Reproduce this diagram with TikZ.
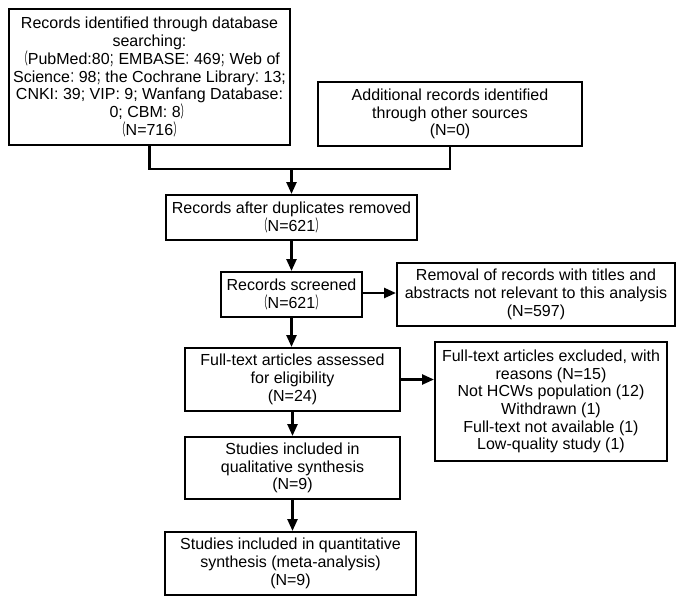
\documentclass[tikz,border=0pt]{standalone}
\usepackage{fontspec}
\setmainfont{Liberation Sans}
\newfontfamily\cjk[FakeStretch=0.55]{Noto Sans CJK SC}
\usetikzlibrary{arrows.meta}
\newcommand{\fw}[1]{{\cjk #1}}
\tikzset{
  box/.style={draw=black, line width=2pt, fill=white, align=center, inner sep=0pt,
    font=\fontsize{16}{17.7}\selectfont},
  arr/.style={line width=2.5pt, -{Triangle[length=12pt,width=10pt]}},
  ln/.style={line width=2.5pt}
}
\begin{document}
\begin{tikzpicture}[x=1pt,y=-1pt]
\useasboundingbox (0,0) rectangle (683,605);
\node[box, minimum width=281pt, minimum height=136pt] (b1) at (149.5,77)
  {Records identified through database\\searching:\\
   \fw{（}PubMed:80\fw{；}EMBASE\fw{：}469\fw{；}Web of\\
   Science\fw{：}98\fw{；}the Cochrane Library\fw{：}13;\\
   CNKI: 39; VIP: 9; Wanfang Database:\\
   0; CBM: 8\fw{）}\\
   \fw{（}N=716\fw{）}};
\node[box, minimum width=264pt, minimum height=64pt] (b2) at (450,114)
  {Additional records identified\\through other sources\\(N=0)};
\node[box, minimum width=251pt, minimum height=45pt] (b3) at (291.5,217.5)
  {Records after duplicates removed\\\fw{（}N=621\fw{）}};
\node[box, minimum width=141pt, minimum height=45pt] (b4) at (291.5,294.5)
  {Records screened\\\fw{（}N=621\fw{）}};
\node[box, minimum width=278pt, minimum height=63pt] (b5) at (536,294.5)
  {Removal of records with titles and\\abstracts not relevant to this analysis\\(N=597)};
\node[box, minimum width=215pt, minimum height=63pt] (b6) at (292.5,379.5)
  {Full-text articles assessed\\for eligibility\\(N=24)};
\node[box, minimum width=232pt, minimum height=119pt] (b7) at (551,401.5)
  {Full-text articles excluded, with\\reasons (N=15)\\Not HCWs population (12)\\Withdrawn (1)\\Full-text not available (1)\\Low-quality study (1)};
\node[box, minimum width=215pt, minimum height=62pt] (b8) at (292.5,468)
  {Studies included in\\qualitative synthesis\\(N=9)};
\node[box, minimum width=251pt, minimum height=63pt] (b9) at (290.5,563.5)
  {Studies included in quantitative\\synthesis (meta-analysis)\\(N=9)};
\coordinate (j) at (291.5,169);
\draw[ln] (b1.south) |- (j);
\draw[ln] (b2.south) |- (j);
\draw[arr] (j) -- (b3.north);
\draw[arr] (b3.south) -- (b4.north);
\draw[arr] ([yshift=1.5pt]b4.east) -- ([yshift=1.5pt]b4.east -| b5.west);
\draw[arr] (b4.south) -- (b4.south |- b6.north);
\draw[arr] (b6.east) -- (b6.east -| b7.west);
\draw[arr] (b6.south) -- (b6.south |- b8.north);
\draw[arr] (b8.south) -- (b8.south |- b9.north);
\end{tikzpicture}
\end{document}
